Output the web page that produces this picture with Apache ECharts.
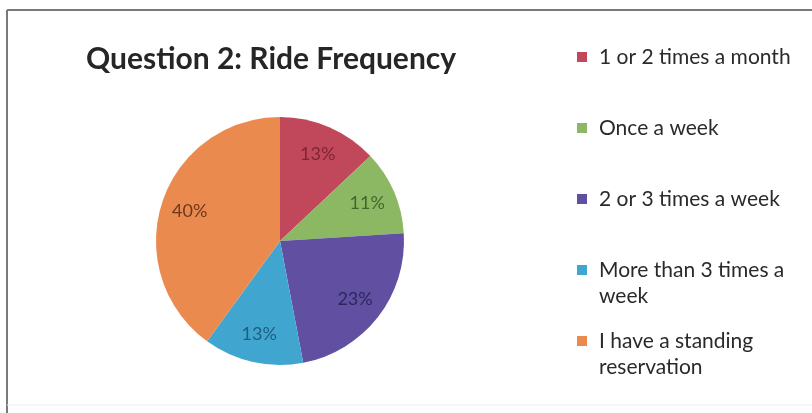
<!DOCTYPE html>
<html><head><meta charset="utf-8">
<script src="https://cdn.jsdelivr.net/npm/echarts@6/dist/echarts.min.js"></script>
<style>html,body{margin:0;padding:0;background:#fff}#c{width:812px;height:413px}</style>
</head><body><div id="c"></div>
<script>
const titleText = 'Question 2: Ride Frequency';
const categories = ['1 or 2 times a month', 'Once a week', '2 or 3 times a week', 'More than 3 times a week', 'I have a standing reservation'];
const legendLabels = ['1 or 2 times a month', 'Once a week', '2 or 3 times a week', 'More than 3 times a\nweek', 'I have a standing\nreservation'];
const values = [13, 11, 23, 13, 40];
const colors = ['#C0485A', '#8DB863', '#6150A2', '#40A6CF', '#EB8A4E'];
const labelColors = ['#7E2637', '#3D6A2A', '#2B275E', '#1E5E80', '#6A3A1E'];

const FONT = 'Lato, "Open Sans", sans-serif';
const chart = echarts.init(document.getElementById('c'), null, {renderer: 'canvas'});
const pieData = categories.map((n, i) => ({name: n, value: values[i], itemStyle: {color: colors[i]}}));
const labelData = categories.map((n, i) => ({name: n, value: values[i], label: {color: labelColors[i]}}));
const isMulti = i => legendLabels[i].indexOf('\n') >= 0;

chart.setOption({
  animation: false,
  backgroundColor: '#fff',
  title: {
    text: titleText, left: 81, top: 39,
    textStyle: {fontFamily: FONT, fontWeight: 'bold', fontSize: 30, color: '#262626'}
  },
  legend: {
    orient: 'vertical', left: 572, top: 13,
    itemWidth: 10, itemHeight: 10, itemGap: -7,
    icon: 'rect',
    formatter: name => {
      const i = categories.indexOf(name);
      return isMulti(i) ? '\n' + legendLabels[i] : legendLabels[i];
    },
    data: categories.map((n, i) => ({
      name: n,
      textStyle: {padding: isMulti(i) ? [0, 0, 0, 7] : [26, 0, 26, 7]}
    })),
    textStyle: {fontFamily: FONT, fontSize: 21, color: '#2a2a2a', lineHeight: 26}
  },
  graphic: [
    {type: 'line', shape: {x1: 7, y1: 10, x2: 812, y2: 10}, style: {stroke: '#7a7a7a', lineWidth: 2}},
    {type: 'line', shape: {x1: 7, y1: 10, x2: 7, y2: 413}, style: {stroke: '#7a7a7a', lineWidth: 2}},
    {type: 'line', shape: {x1: 7, y1: 405, x2: 812, y2: 405}, style: {stroke: '#ececec', lineWidth: 1}}
  ],
  series: [
    {
      type: 'pie', center: [280, 241], radius: [0, 124], startAngle: 90, clockwise: true,
      label: {show: false}, labelLine: {show: false}, silent: true,
      itemStyle: {borderWidth: 0},
      data: pieData
    },
    {
      type: 'pie', center: [280, 241], radius: [60, 124], startAngle: 90, clockwise: true,
      itemStyle: {color: 'rgba(0,0,0,0)', borderWidth: 0}, silent: true,
      label: {show: true, position: 'inside', formatter: '{c}%', fontFamily: FONT, fontSize: 18},
      labelLine: {show: false},
      data: labelData
    }
  ]
});
</script></body></html>
